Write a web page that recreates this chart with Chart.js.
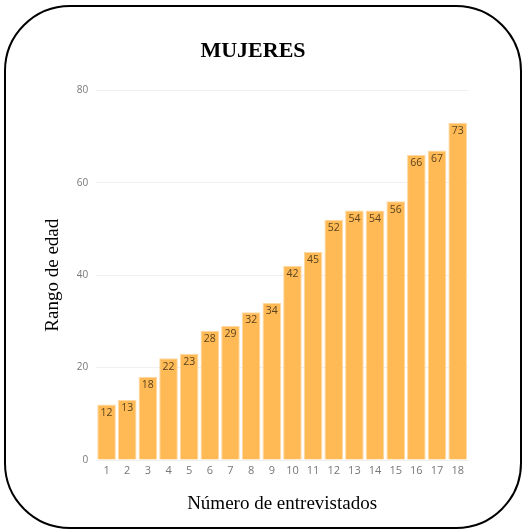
<!DOCTYPE html>
<html>
<head>
<meta charset="utf-8">
<script src="https://cdn.jsdelivr.net/npm/chart.js@4.4.0/dist/chart.umd.min.js"></script>
<style>
  html, body { margin: 0; padding: 0; background: #fff; }
  #frame {
    position: absolute; left: 4px; top: 5px; width: 514px; height: 520px;
    border: 2.5px solid #000; border-radius: 66px; background: #fff;
  }
  #wrap { position: absolute; left: 0; top: 0; width: 526px; height: 532px; }
</style>
</head>
<body>
<div id="frame"></div>
<div id="wrap"><canvas id="mujeresChart" width="526" height="532"></canvas></div>
<script>
const entrevistados = ['1','2','3','4','5','6','7','8','9','10','11','12','13','14','15','16','17','18'];
const edades = [12, 13, 18, 22, 23, 28, 29, 32, 34, 42, 45, 52, 54, 54, 56, 66, 67, 73];
const yTicks = [0, 20, 40, 60, 80];

// draw the value on top of each bar (inside)
const barLabels = {
    id: 'barLabels',
    afterDatasetsDraw(chart) {
        const ctx = chart.ctx;
        const meta = chart.getDatasetMeta(0);
        ctx.save();
        ctx.font = '10.5px "Open Sans", sans-serif';
        ctx.fillStyle = '#5a4420';
        ctx.textAlign = 'center';
        ctx.textBaseline = 'top';
        meta.data.forEach((bar, i) => {
            ctx.fillText(edades[i], bar.x, bar.y + 3);
        });
        ctx.restore();
    }
};

const ctx = document.getElementById('mujeresChart').getContext('2d');
new Chart(ctx, {
    type: 'bar',
    data: {
        labels: entrevistados,
        datasets: [{
            label: 'Edad',
            data: edades,
            backgroundColor: '#FFB955',
            borderColor: '#FFD9A0',
            borderWidth: 1,
            barPercentage: 0.9,
            categoryPercentage: 1.0
        }]
    },
    options: {
        responsive: false,
        animation: false,
        layout: { padding: { left: 38, right: 58, top: 38, bottom: 13 } },
        plugins: {
            legend: { display: false },
            tooltip: { enabled: false },
            title: {
                display: true,
                text: 'MUJERES',
                color: '#000',
                font: { family: '"Liberation Serif", serif', size: 22, weight: 'bold' },
                padding: { top: 0, bottom: 26 }
            }
        },
        scales: {
            x: {
                grid: { display: false, drawTicks: false },
                border: { display: false },
                ticks: { color: '#777', font: { family: '"Open Sans", sans-serif', size: 11 }, padding: 4 },
                title: {
                    display: true,
                    text: 'Número de entrevistados',
                    color: '#000',
                    font: { family: '"Liberation Serif", serif', size: 19 },
                    padding: { top: 11 }
                }
            },
            y: {
                min: 0,
                max: 80,
                afterBuildTicks: axis => { axis.ticks = yTicks.map(v => ({ value: v })); },
                grid: { color: '#efefef', drawTicks: false },
                border: { display: false },
                ticks: { color: '#777', font: { family: '"Open Sans", sans-serif', size: 10 }, padding: 8 },
                title: {
                    display: true,
                    text: 'Rango de edad',
                    color: '#000',
                    font: { family: '"Liberation Serif", serif', size: 19 },
                    padding: { bottom: 4 }
                }
            }
        }
    },
    plugins: [barLabels]
});
</script>
</body>
</html>
